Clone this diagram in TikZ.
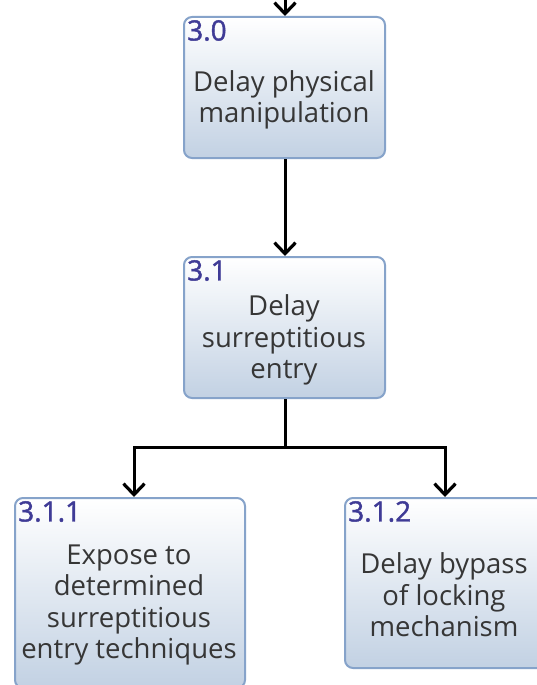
\documentclass[tikz,border=0pt]{standalone}
\usepackage{fontspec}
\setmainfont{Open Sans}
\newfontfamily\idfont[FakeBold=1.5]{Open Sans}
\usetikzlibrary{arrows.meta}
\definecolor{boxedge}{HTML}{86A3CA}
\definecolor{boxbot}{HTML}{C2D1E3}
\definecolor{idcol}{HTML}{3F3B96}
\definecolor{txtcol}{HTML}{363636}
\tikzset{
  x=1pt, y=-1pt,
  boxshape/.style={draw=boxedge, line width=2pt, rounded corners=8pt,
    top color=white, bottom color=boxbot, inner sep=0pt, anchor=north west},
  idlabel/.style={anchor=north west, inner sep=0pt, text=idcol,
    font=\idfont\fontsize{28}{30}\selectfont},
  bodytext/.style={align=center, inner sep=0pt, text=txtcol,
    font=\fontsize{27.5}{31.5}\selectfont},
  conn/.style={line width=3pt, -{Straight Barb[length=11pt, width=21pt, line width=3.2pt]}},
  connplain/.style={line width=3pt}
}
\begin{document}
\begin{tikzpicture}
\useasboundingbox[fill=white] (0,0) rectangle (537,685);
% boxes
\node[boxshape, minimum width=201pt, minimum height=141pt] (b30) at (183,16) {};
\node[boxshape, minimum width=201pt, minimum height=141pt] (b31) at (183,256) {};
\node[boxshape, minimum width=230pt, minimum height=190pt] (b311) at (14,497) {};
\node[boxshape, minimum width=200pt, minimum height=170pt] (b312) at (344,497) {};
% id labels
\node[idlabel] (l30) at (187,20) {3.0};
\node[idlabel] (l31) at (187,260) {3.1};
\node[idlabel] (l311) at (18,501) {3.1.1};
\node[idlabel] (l312) at (348,501) {3.1.2};
% texts
\node[bodytext] (t30) at (284,100) {Delay physical\\manipulation};
\node[bodytext] (t31) at (284,340) {Delay\\surreptitious\\entry};
\node[bodytext] (t311) at (129,605) {Expose to\\determined\\surreptitious\\entry techniques};
\node[bodytext] (t312) at (444,595) {Delay bypass\\of locking\\mechanism};
% connectors
\coordinate (top) at (285,-10);
\coordinate (split) at (285,447);
\coordinate (left) at (134,447);
\coordinate (right) at (445,447);
\draw[conn] (top) -- (b30.north -| top);
\draw[conn] (b30.south -| top) -- (b31.north -| top);
\draw[connplain] (b31.south -| split) -- (split);
\draw[conn] (split) -- (left) -- (b311.north -| left);
\draw[conn] (split) -- (right) -- (b312.north -| right);
\end{tikzpicture}
\end{document}
